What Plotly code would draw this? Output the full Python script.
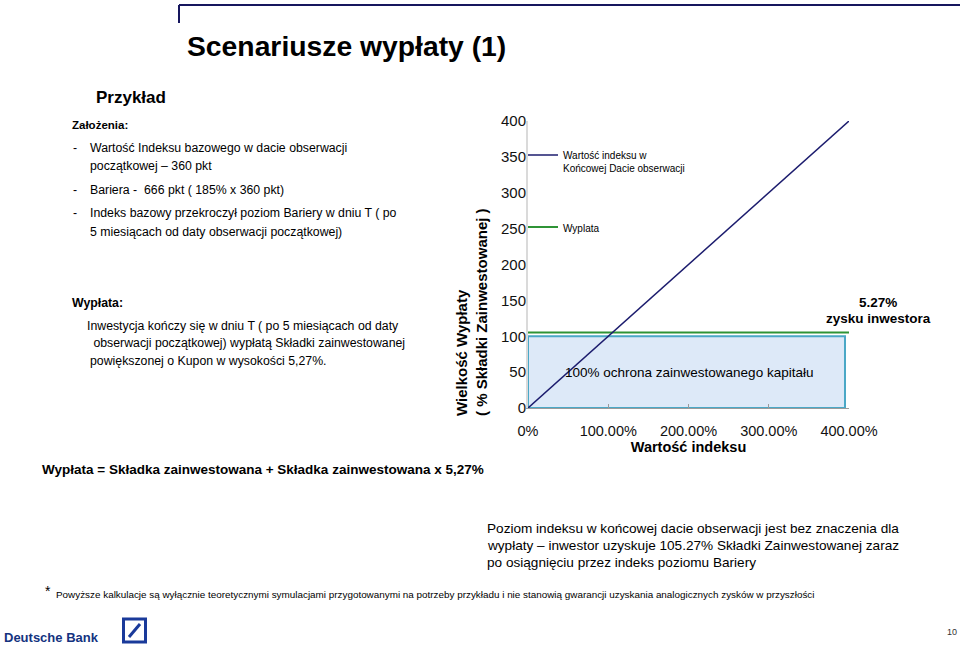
import plotly.graph_objects as go

W, H = 960, 651
FONT = "Arial, 'Liberation Sans', sans-serif"

# ---- data ----
index_pct = [0, 400]                 # Wartość indeksu (%)
index_value = [0, 400]               # Wartość indeksu w Końcowej Dacie obserwacji
payout_x = [0, 400]
payout_value = [105.27, 105.27]      # Wyplata (% Składki)
protection_x = [0, 395]
protection_level = [100, 100]
x_tickvals = [0, 100, 200, 300, 400]
x_ticktext = ["0%", "100.00%", "200.00%", "300.00%", "400.00%"]
y_tickvals = [0, 50, 100, 150, 200, 250, 300, 350, 400]


def px(x):
    return x / W


def py(y):
    return 1 - y / H


fig = go.Figure()

fig.add_trace(go.Scatter(
    x=[protection_x[0], protection_x[1], protection_x[1], protection_x[0], protection_x[0]],
    y=[0, 0, protection_level[1], protection_level[0], 0],
    fill="toself", fillcolor="#DDE9F8", mode="lines",
    line=dict(color="#4AA8C6", width=2), showlegend=False, hoverinfo="skip"))

fig.add_trace(go.Scatter(
    x=payout_x, y=payout_value, mode="lines", name="Wyplata",
    line=dict(color="#2F9436", width=2), legend="legend2"))

fig.add_trace(go.Scatter(
    x=index_pct, y=index_value, mode="lines",
    name="Wartość indeksu w<br>Końcowej Dacie obserwacji",
    line=dict(color="#1C1C6E", width=1.5), legend="legend"))

ann = []


def text(x, y, s, size, bold=False, color="#000", xanchor="left", align="left", **kw):
    ann.append(dict(x=px(x), y=py(y), xref="paper", yref="paper",
                    text=f"<b>{s}</b>" if bold else s, showarrow=False,
                    xanchor=xanchor, yanchor="middle", align=align,
                    font=dict(family=FONT, size=size, color=color), **kw))


text(185, 46, "Scenariusze wypłaty (1)", 28.3, bold=True)
text(94, 97, "Przykład", 17, bold=True)
text(70, 125, "Założenia:", 11.5, bold=True)
for yy, s in [(148, "Wartość Indeksu bazowego w dacie obserwacji"),
              (166, "początkowej – 360 pkt"),
              (190, "Bariera -  666 pkt ( 185% x 360 pkt)"),
              (213, "Indeks bazowy przekroczył poziom Bariery w dniu T ( po"),
              (232, "5 miesiącach od daty obserwacji początkowej)")]:
    text(88, yy, s, 12.3)
for yy in [148, 190, 213]:
    text(71, yy, "-", 12.3)
text(70, 303, "Wypłata:", 12.3, bold=True)
text(85, 326, "Inwestycja kończy się w dniu T ( po 5 miesiącach od daty", 12.3)
text(88, 343, " obserwacji początkowej) wypłatą Składki zainwestowanej", 12.3)
text(88, 361, "powiększonej o Kupon w wysokości 5,27%.", 12.3)
text(40, 469, "Wypłata = Składka zainwestowana + Składka zainwestowana x 5,27%", 13.5, bold=True)

text(485, 528, "Poziom indeksu w końcowej dacie obserwacji jest bez znaczenia dla", 13.6)
text(485, 545, "wypłaty – inwestor uzyskuje 105.27% Składki Zainwestowanej zaraz", 13.6)
text(485, 562, "po osiągnięciu przez indeks poziomu Bariery", 13.6)

text(43, 591, "*", 14)
text(54, 594, "Powyższe kalkulacje są wyłącznie teoretycznymi symulacjami przygotowanymi na potrzeby "
     "przykładu i nie stanowią gwarancji uzyskania analogicznych zysków w przyszłości", 9.9)

text(2, 637, "Deutsche Bank", 13, bold=True, color="#14337F")
text(945, 632, "10", 9, color="#333")

# chart annotations
ann.append(dict(x=px(472), y=py(312), xref="paper", yref="paper",
                text="<b>Wielkość Wypłaty<br>( % Składki Zainwestowanej )</b>",
                showarrow=False, textangle=-90, align="left",
                xanchor="center", yanchor="middle",
                font=dict(family=FONT, size=15, color="#000")))
text(878, 302, "5.27%", 13.5, bold=True, xanchor="center", align="center")
text(878, 318, "zysku inwestora", 13.5, bold=True, xanchor="center", align="center")
ann.append(dict(x=200, y=49, xref="x", yref="y",
                text="100% ochrona zainwestowanego kapitału", showarrow=False,
                xanchor="center", yanchor="middle",
                font=dict(family=FONT, size=13.5, color="#000")))

shapes = [
    # slide frame
    dict(type="line", xref="paper", yref="paper", x0=px(179), x1=px(960), y0=py(5), y1=py(5),
         line=dict(color="#16165E", width=2)),
    dict(type="line", xref="paper", yref="paper", x0=px(179), x1=px(179), y0=py(5), y1=py(23),
         line=dict(color="#16165E", width=2)),
    # logo
    dict(type="rect", xref="paper", yref="paper", x0=px(123.5), x1=px(145.5), y0=py(642), y1=py(619),
         line=dict(color="#1A3A9A", width=3)),
    dict(type="line", xref="paper", yref="paper", x0=px(129), x1=px(140), y0=py(637), y1=py(624),
         line=dict(color="#1A3A9A", width=3)),
]

fig.update_layout(
    width=W, height=H, autosize=False, margin=dict(l=0, r=0, t=0, b=0, autoexpand=False),
    paper_bgcolor="white", plot_bgcolor="white",
    font=dict(family=FONT, color="#000"),
    annotations=ann, shapes=shapes,
    xaxis=dict(domain=[px(528), px(849)], range=[0, 400], tickvals=x_tickvals, ticktext=x_ticktext,
               automargin=False,
               showgrid=False, zeroline=False, showline=True, linecolor="#9A9A9A", linewidth=1,
               ticks="inside", ticklen=4, tickcolor="#9A9A9A", ticklabelstandoff=10,
               tickfont=dict(size=14.5, color="#111"),
               title=dict(text="<b>Wartość indeksu</b>", font=dict(size=14.5, color="#000"), standoff=3)),
    yaxis=dict(domain=[py(408), py(121)], range=[0, 400], tickvals=y_tickvals, automargin=False,
               showgrid=False, zeroline=False, showline=True, linecolor="#DADADA", linewidth=2,
               ticks="", ticklabelstandoff=-3, tickfont=dict(size=15, color="#111")),
    legend=dict(x=px(523), y=py(142), xanchor="left", yanchor="top", valign="top",
                bgcolor="rgba(0,0,0,0)", font=dict(size=10, family=FONT, color="#000"), itemwidth=30),
    legend2=dict(x=px(523), y=py(214), xanchor="left", yanchor="top", valign="top",
                 bgcolor="rgba(0,0,0,0)", font=dict(size=10, family=FONT, color="#000"), itemwidth=30),
)

fig.write_html("out.html", config={"displayModeBar": False},
               post_script="document.body.style.margin='0';")
